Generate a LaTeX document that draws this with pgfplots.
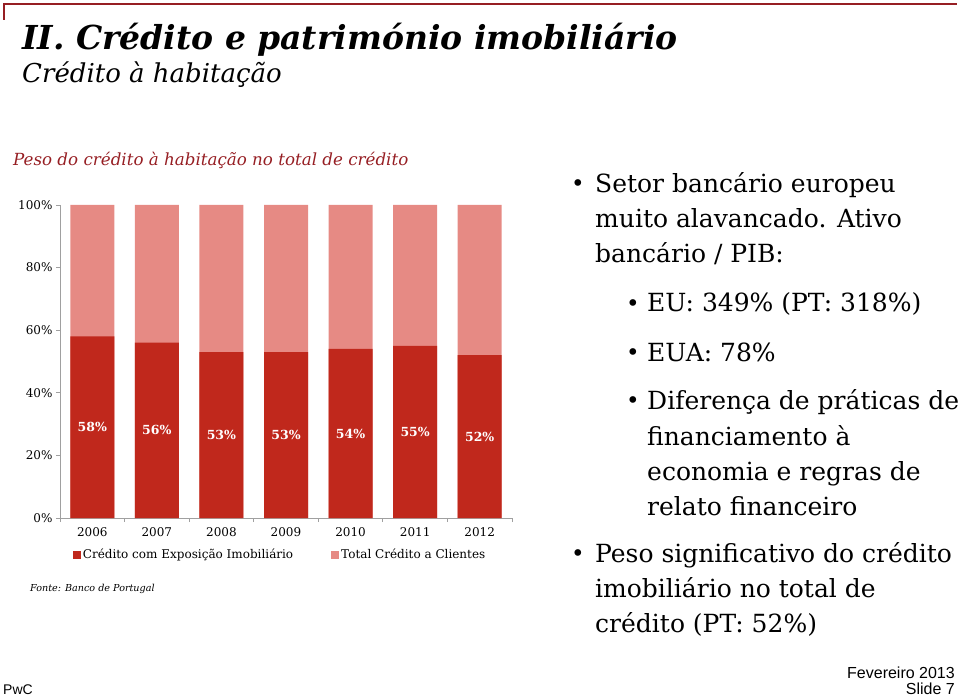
\documentclass[border=0pt]{standalone}
\usepackage{pgfplots}
\usepackage{pgfplotstable}
\pgfplotsset{compat=1.18}
\usepackage{fontspec}
\setmainfont{DejaVu Serif}
\newfontfamily\sans{Liberation Sans}
\definecolor{darkred}{RGB}{192,40,28}
\definecolor{lightred}{RGB}{230,138,132}
\definecolor{titlered}{RGB}{150,30,35}
\definecolor{axisgray}{RGB}{160,160,160}
\pgfplotstableread{
x v
0 58
1 56
2 53
3 53
4 54
5 55
6 52
}\housing
\pgfplotstableread{
x v
0 100
1 100
2 100
3 100
4 100
5 100
6 100
}\total
\begin{document}
\begin{tikzpicture}
\path[use as bounding box] (0pt,0pt) rectangle (960pt,697pt);
\draw[titlered, line width=1.2pt] (4pt,677pt) -- (4pt,693pt) -- (957pt,693pt);
\node[anchor=base west, inner sep=0, font=\fontsize{33}{38}\selectfont\bfseries\itshape] at (22pt,647pt) {II. Crédito e património imobiliário};
\node[anchor=base west, inner sep=0, font=\fontsize{26}{30}\selectfont\itshape] at (22pt,614pt) {Crédito à habitação};
\node[anchor=base west, inner sep=0, text=titlered, font=\fontsize{16.7}{19}\selectfont\itshape] at (13pt,531pt) {Peso do crédito à habitação no total de crédito};

\begin{axis}[
  at={(60pt,179pt)}, anchor=south west,
  scale only axis, width=452pt, height=313pt,
  ymin=0, ymax=100, xmin=-0.5, xmax=6.5,
  axis x line*=bottom, axis y line*=left,
  axis line style={axisgray, line width=0.8pt},
  tick style={axisgray, line width=0.8pt},
  tick align=outside, major tick length=4pt,
  ytick={0,20,...,100},
  yticklabels={0\%,20\%,40\%,60\%,80\%,100\%},
  xtick={-0.5,0.5,...,6.5},
  x tick label as interval,
  xticklabels={2006,2007,2008,2009,2010,2011,2012},
  ticklabel style={font=\fontsize{12}{14}\selectfont, text=black},
  xticklabel style={yshift=-2pt},
  /pgf/number format/assume math mode=true,
  ybar, bar width=44pt, bar shift=0pt,
  legend columns=2,
  legend style={draw=none, fill=none, at={(0.028,-0.118)}, anchor=west,
    font=\fontsize{12}{14}\selectfont, inner sep=0pt,
    /tikz/every even column/.append style={column sep=36pt}},
  legend cell align=left,
  legend image code/.code={\draw[#1, draw=none] (0pt,-4pt) rectangle (8pt,4pt);},
]
\addlegendimage{fill=darkred}
\addlegendentry{Crédito com Exposição Imobiliário}
\addlegendimage{fill=lightred}
\addlegendentry{Total Crédito a Clientes}
\addplot[fill=lightred, draw=none, forget plot] table[x=x, y=v] {\total};
\addplot[fill=darkred, draw=none, forget plot] table[x=x, y=v] {\housing};
\addplot[draw=none, fill=none, forget plot,
  point meta=explicit,
  nodes near coords={\pgfmathprintnumber{\pgfplotspointmeta}\%},
  nodes near coords align={center},
  every node near coord/.append style={anchor=center, text=white, font=\fontsize{12.5}{14}\selectfont\bfseries}]
  table[x=x, y expr=\thisrow{v}/2, meta=v] {\housing};
\end{axis}

\node[anchor=base west, inner sep=0, font=\fontsize{9.6}{12}\selectfont\itshape] at (30pt,106pt) {Fonte: Banco de Portugal};

\begin{scope}[every node/.style={anchor=base west, inner sep=0, font=\fontsize{25}{30}\selectfont}]
\node at (595pt,504pt) {Setor bancário europeu};
\node at (595pt,469pt) {muito alavancado. Ativo};
\node at (595pt,434pt) {bancário / PIB:};
\node at (647pt,385pt) {EU: 349\% (PT: 318\%)};
\node at (647pt,336pt) {EUA: 78\%};
\node at (647pt,288pt) {Diferença de práticas de};
\node at (647pt,252pt) {financiamento à};
\node at (647pt,217pt) {economia e regras de};
\node at (647pt,182pt) {relato financeiro};
\node at (595pt,135pt) {Peso significativo do crédito};
\node at (595pt,100pt) {imobiliário no total de};
\node at (595pt,65pt) {crédito (PT: 52\%)};
\end{scope}
\begin{scope}[every node/.style={anchor=base west, inner sep=0, font=\fontsize{23}{26}\selectfont}]
\node at (571pt,505pt) {•};
\node at (626pt,386pt) {•};
\node at (626pt,337pt) {•};
\node at (626pt,289pt) {•};
\node at (571pt,136pt) {•};
\end{scope}

\node[anchor=base west, inner sep=0, font=\sans\fontsize{14}{16}\selectfont] at (3pt,3pt) {PwC};
\node[anchor=base east, inner sep=0, font=\sans\fontsize{16}{18}\selectfont] at (955pt,19pt) {Fevereiro 2013};
\node[anchor=base east, inner sep=0, font=\sans\fontsize{16}{18}\selectfont] at (955pt,3pt) {Slide 7};
\end{tikzpicture}
\end{document}
